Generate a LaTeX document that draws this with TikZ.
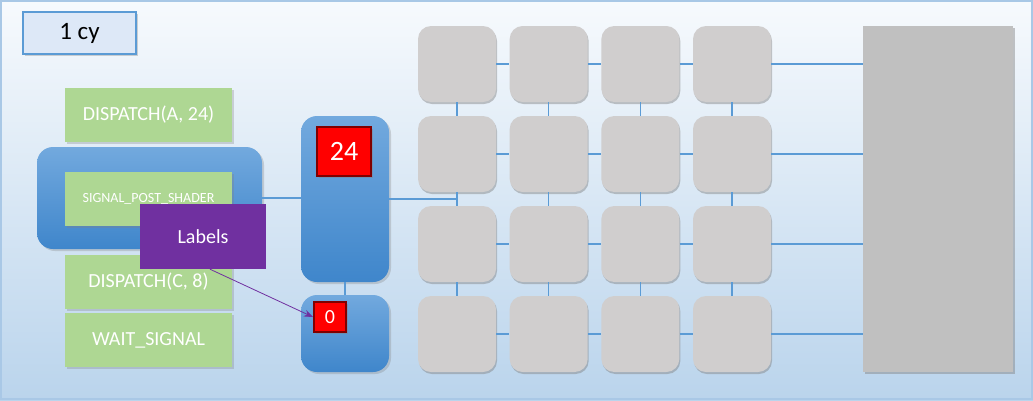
\documentclass[tikz,border=0pt]{standalone}
\usepackage{fontspec}
\setmainfont{Carlito}
\usetikzlibrary{shadows,arrows.meta,positioning}

\definecolor{frameBlue}{HTML}{A9C8E6}
\definecolor{skyTop}{HTML}{F7FAFD}
\definecolor{skyBottom}{HTML}{BAD4EC}
\definecolor{wireBlue}{HTML}{5B9BD5}
\definecolor{cmdGreen}{HTML}{AED793}
\definecolor{tileGray}{HTML}{D0CECE}
\definecolor{memGray}{HTML}{C0C0C0}
\definecolor{labelPurple}{HTML}{7030A0}
\definecolor{colTop}{HTML}{72A9DE}
\definecolor{colBottom}{HTML}{3F86CB}

\begin{document}
\begin{tikzpicture}[
    x=1pt, y=-1pt,
    font=\fontsize{20}{22}\selectfont,
    cycleNode/.style={
        rectangle, draw=wireBlue, line width=1.2pt, fill=blue!4!skyBottom!45!white,
        minimum width=113pt, minimum height=42pt, inner sep=0pt,
        font=\fontsize{25}{27}\selectfont,
        drop shadow={opacity=0.35, shadow xshift=2pt, shadow yshift=-2pt}
    },
    cmdNode/.style={
        rectangle, fill=cmdGreen, text=white, minimum width=167pt, minimum height=54pt,
        inner sep=0pt, drop shadow={opacity=0.3, shadow xshift=2pt, shadow yshift=-2pt}
    },
    groupNode/.style={
        rectangle, rounded corners=16pt, top color=colTop, bottom color=colBottom,
        draw=none, inner sep=0pt,
        drop shadow={opacity=0.3, shadow xshift=2pt, shadow yshift=-2pt}
    },
    counterNode/.style={
        rectangle, fill=red, draw=red!50!black, line width=2pt, text=white,
        inner sep=0pt, drop shadow={opacity=0.4, shadow xshift=2pt, shadow yshift=-2pt}
    },
    tileNode/.style={
        rectangle, rounded corners=13pt, fill=tileGray, draw=none,
        minimum width=78pt, minimum height=76pt, inner sep=0pt,
        drop shadow={opacity=0.45, shadow xshift=1pt, shadow yshift=-2pt}
    },
    memNode/.style={
        rectangle, fill=memGray, minimum width=150pt, minimum height=346pt, inner sep=0pt,
        drop shadow={opacity=0.45, shadow xshift=2pt, shadow yshift=-2pt}
    },
    labelNode/.style={
        rectangle, fill=labelPurple, text=white, minimum width=126pt, minimum height=65pt,
        inner sep=0pt
    },
    wire/.style={draw=wireBlue, line width=1.2pt},
    labelArrow/.style={-{Stealth[length=9pt, width=7pt]}, draw=labelPurple, line width=0.8pt}
]

\useasboundingbox (0,0) rectangle (1033,400);
\fill[top color=skyTop, bottom color=skyBottom] (0,0) rectangle (1033,400);
\draw[frameBlue, line width=2pt] (1,1) rectangle (1032,399);

% Nodes
\node[cycleNode] (cycle) at (79.5,33) {1 cy};

\node[groupNode, minimum width=225pt, minimum height=102pt] (sigGroup) at (149.5,198) {};

\node[cmdNode] (dispA) at (148.5,114.5) {DISPATCH(A, 24)};
\node[cmdNode, font=\fontsize{14}{16}\selectfont] (signal) at (148.5,199) {SIGNAL\_POST\_SHADER};
\node[cmdNode] (dispC) at (148.5,281.5) {DISPATCH(C, 8)};
\node[cmdNode] (wait) at (148.5,340) {WAIT\_SIGNAL};

\node[labelNode] (labels) at (203,236.5) {Labels};

\node[groupNode, minimum width=88pt, minimum height=166pt] (queueTop) at (345,199) {};
\node[groupNode, minimum width=88pt, minimum height=77pt] (queueBot) at (345,333.5) {};
\node[counterNode, minimum width=54pt, minimum height=49pt,
      font=\fontsize{28}{30}\selectfont] (count24) at (344,151.5) {24};
\node[counterNode, minimum width=32pt, minimum height=30pt] (count0) at (330,317) {0};

\foreach \r/\yy in {1/64,2/154,3/244,4/334}
  \foreach \c in {1,...,4}
    \node[tileNode] (tile-\r-\c) at ({457+91.67*(\c-1)},\yy) {};

\node[memNode] (mem) at (938,199) {};

% Connections
\foreach \r in {1,...,4} {
  \foreach \c/\n in {1/2,2/3,3/4}
    \draw[wire] (tile-\r-\c.east) -- (tile-\r-\n.west);
  \draw[wire] (tile-\r-4.east) -- (tile-\r-4.east -| mem.west);
}
\foreach \r/\n in {1/2,2/3,3/4}
  \foreach \c in {1,...,4}
    \draw[wire] (tile-\r-\c.south) -- (tile-\n-\c.north);

\draw[wire] (sigGroup.east) -- (sigGroup.east -| queueTop.west);
\draw[wire] (queueTop.east) -- (queueTop.east -| tile-2-1.south);
\draw[wire] (queueTop.south) -- (queueBot.north);

\draw[labelArrow] ([xshift=7pt]labels.south) -- (count0.west);

\end{tikzpicture}
\end{document}
